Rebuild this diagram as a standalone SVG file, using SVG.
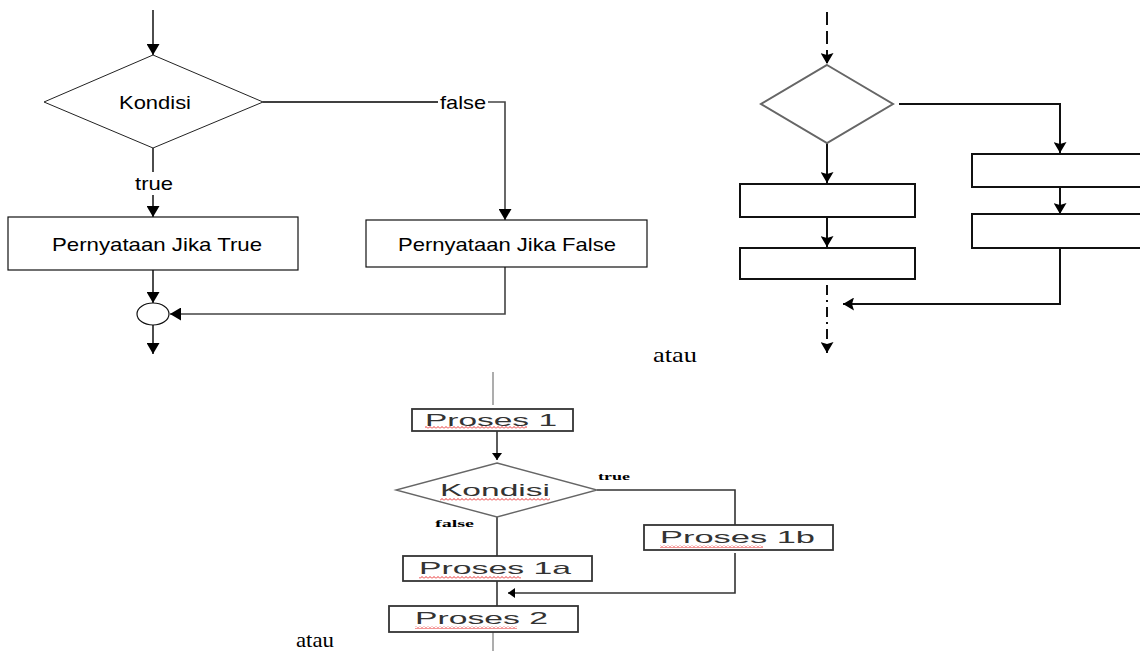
<svg xmlns="http://www.w3.org/2000/svg" width="1140" height="651" viewBox="0 0 1140 651">
  <defs>
    <style>
      .ln { fill: none; stroke: #000; stroke-width: 1.4; }
      .ln-g { fill: none; stroke: #444; stroke-width: 1.6; }
      .box { fill: #fff; stroke: #111; stroke-width: 1.2; }
      .dia { fill: #fff; stroke: #222; stroke-width: 1; }
      .lbl { font-family: "Liberation Sans", Arial, sans-serif; font-size: 19px; fill: #000; dominant-baseline: central; text-anchor: middle; }
      .r-ln { fill: none; stroke: #111; stroke-width: 2; }
      .r-box { fill: #fff; stroke: #111; stroke-width: 2; }
      .r-dia { fill: #fff; stroke: #666; stroke-width: 2; }
      .b-ln { fill: none; stroke: #333; stroke-width: 1.6; }
      .b-gray { fill: none; stroke: #999; stroke-width: 1.6; }
      .b-box { fill: #fff; stroke: #333; stroke-width: 1.8; }
      .b-dia { fill: #fff; stroke: #666; stroke-width: 1.4; }
      .b-txt { font-family: "Liberation Sans", Arial, sans-serif; font-size: 17px; fill: #333; dominant-baseline: central; }
      .tiny { font-family: "Liberation Serif", "Times New Roman", serif; font-size: 11px; font-weight: bold; fill: #000; dominant-baseline: central; }
      .serif { font-family: "Liberation Serif", "Times New Roman", serif; font-size: 21px; fill: #000; }
      .squiggle { fill: url(#squiggle); }
    </style>
    <marker id="ah" markerUnits="userSpaceOnUse" markerWidth="13" markerHeight="13" refX="11" refY="6.5" orient="auto">
      <path d="M0,0 L11,6.5 L0,13 z" fill="#000"/>
    </marker>
    <marker id="ah-r" markerUnits="userSpaceOnUse" markerWidth="13" markerHeight="13" refX="11" refY="6.5" orient="auto">
      <path d="M0,0 L11,6.5 L0,13 L2,6.5 z" fill="#000"/>
    </marker>
    <marker id="ah-b" markerUnits="userSpaceOnUse" markerWidth="10" markerHeight="10" refX="7" refY="5" orient="auto">
      <path d="M0,0 L7,5 L0,10 z" fill="#000"/>
    </marker>
    <pattern id="squiggle" width="4" height="3" patternUnits="userSpaceOnUse">
      <path d="M0,2.5 L2,0.5 L4,2.5" fill="none" stroke="#e83030" stroke-width="1"/>
    </pattern>
  </defs>
  <rect width="1140" height="651" fill="#fff"/>

  <!-- Flow 1: if / else with merge circle -->
  <g id="flow1-connectors">
    <line class="ln" x1="153" y1="10" x2="153" y2="55" marker-end="url(#ah)"/>
    <line class="ln" x1="263" y1="102" x2="438" y2="102"/>
    <polyline class="ln-g" points="488,102 505,102 505,220" marker-end="url(#ah)"/>
    <line class="ln" x1="153" y1="148" x2="153" y2="172"/>
    <line class="ln" x1="153" y1="195" x2="153" y2="217" marker-end="url(#ah)"/>
    <line class="ln" x1="153" y1="270" x2="153" y2="303" marker-end="url(#ah)"/>
    <polyline class="ln-g" points="505,267 505,314 170,314" marker-end="url(#ah)"/>
    <line class="ln" x1="153" y1="325" x2="153" y2="354" marker-end="url(#ah)"/>
    <text class="lbl" x="463" y="102" textLength="46" lengthAdjust="spacingAndGlyphs">false</text>
    <text class="lbl" x="154" y="183" textLength="38" lengthAdjust="spacingAndGlyphs">true</text>
  </g>
  <g id="f1-kondisi">
    <polygon class="dia" points="153,55 263,102 153,148 44,102"/>
    <text class="lbl" x="155" y="102" textLength="72" lengthAdjust="spacingAndGlyphs">Kondisi</text>
  </g>
  <g id="f1-true">
    <rect class="box" x="8" y="217" width="290" height="53"/>
    <text class="lbl" x="157" y="244" textLength="210" lengthAdjust="spacingAndGlyphs">Pernyataan Jika True</text>
  </g>
  <g id="f1-false">
    <rect class="box" x="366" y="220" width="281" height="47"/>
    <text class="lbl" x="507" y="244" textLength="218" lengthAdjust="spacingAndGlyphs">Pernyataan Jika False</text>
  </g>
  <g id="f1-merge">
    <ellipse cx="153" cy="314" rx="16" ry="11" fill="#fff" stroke="#111" stroke-width="1.2"/>
  </g>

  <!-- Flow 2: unlabeled branch with two steps per side -->
  <g id="flow2-connectors">
    <line class="r-ln" x1="827" y1="12" x2="827" y2="64" stroke-dasharray="13 6" marker-end="url(#ah-r)"/>
    <polyline class="r-ln" points="899,104 1060,104 1060,153" marker-end="url(#ah-r)"/>
    <line class="r-ln" x1="827" y1="143" x2="827" y2="183" marker-end="url(#ah-r)"/>
    <line class="r-ln" x1="827" y1="217" x2="827" y2="247" marker-end="url(#ah-r)"/>
    <line class="r-ln" x1="1060" y1="187" x2="1060" y2="214" marker-end="url(#ah-r)"/>
    <polyline class="r-ln" points="1060,245 1060,304 843,304" marker-end="url(#ah-r)"/>
    <line class="r-ln" x1="827" y1="285" x2="827" y2="353" stroke-dasharray="10 5 2 5" marker-end="url(#ah-r)"/>
  </g>
  <g id="f2-decision">
    <polygon class="r-dia" points="827,65 893,104 827,143 761,104"/>
  </g>
  <g id="f2-left1"><rect class="r-box" x="740" y="184" width="175" height="33"/></g>
  <g id="f2-left2"><rect class="r-box" x="740" y="248" width="175" height="31"/></g>
  <g id="f2-right1"><rect class="r-box" x="972" y="154" width="200" height="33"/></g>
  <g id="f2-right2"><rect class="r-box" x="972" y="214" width="200" height="34"/></g>

  <text class="serif" x="653" y="362" textLength="44" lengthAdjust="spacingAndGlyphs">atau</text>

  <!-- Flow 3: process sequence with conditional branch -->
  <g id="flow3-connectors">
    <line class="b-gray" x1="493" y1="372" x2="493" y2="405"/>
    <line class="b-ln" x1="497" y1="431" x2="497" y2="460" marker-end="url(#ah-b)"/>
    <polyline class="b-ln" points="597,490 735,490 735,525"/>
    <polyline class="b-ln" points="735,553 735,593 508,593" marker-end="url(#ah-b)"/>
    <line class="b-ln" x1="497" y1="517" x2="497" y2="556"/>
    <line class="b-ln" x1="497" y1="581" x2="497" y2="606"/>
    <line class="b-gray" x1="493" y1="632" x2="493" y2="651"/>
    <text class="tiny" x="598" y="476" textLength="32" lengthAdjust="spacingAndGlyphs">true</text>
    <text class="tiny" x="435" y="523" textLength="39" lengthAdjust="spacingAndGlyphs">false</text>
  </g>
  <g id="f3-proses1">
    <rect class="b-box" x="412" y="409" width="161" height="22"/>
    <text class="b-txt" x="425" y="420" textLength="132" lengthAdjust="spacingAndGlyphs">Proses 1</text>
    <rect class="squiggle" x="425" y="426" width="102" height="3"/>
  </g>
  <g id="f3-kondisi">
    <polygon class="b-dia" points="497,463 597,490 497,517 396,490"/>
    <text class="b-txt" x="440" y="490" textLength="110" lengthAdjust="spacingAndGlyphs">Kondisi</text>
    <rect class="squiggle" x="440" y="498" width="110" height="3"/>
  </g>
  <g id="f3-proses1b">
    <rect class="b-box" x="644" y="525" width="189" height="25"/>
    <text class="b-txt" x="660" y="537" textLength="155" lengthAdjust="spacingAndGlyphs">Proses 1b</text>
    <rect class="squiggle" x="660" y="545" width="103" height="3"/>
  </g>
  <g id="f3-proses1a">
    <rect class="b-box" x="403" y="556" width="189" height="25"/>
    <text class="b-txt" x="419" y="568" textLength="152" lengthAdjust="spacingAndGlyphs">Proses 1a</text>
    <rect class="squiggle" x="419" y="576" width="102" height="3"/>
  </g>
  <g id="f3-proses2">
    <rect class="b-box" x="389" y="606" width="189" height="26"/>
    <text class="b-txt" x="415" y="618" textLength="133" lengthAdjust="spacingAndGlyphs">Proses 2</text>
    <rect class="squiggle" x="415" y="626" width="102" height="3"/>
  </g>

  <text class="serif" x="296" y="647" textLength="38" lengthAdjust="spacingAndGlyphs">atau</text>
</svg>
